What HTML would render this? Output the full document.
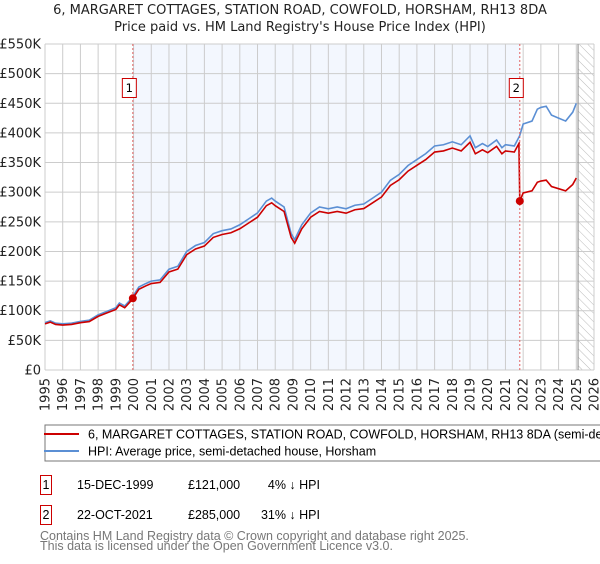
<!DOCTYPE html>
<html><head><meta charset="utf-8"><style>
body{margin:0;background:#fff;font-family:"DejaVu Sans","Liberation Sans",sans-serif;}
svg text{font-family:"DejaVu Sans","Liberation Sans",sans-serif;}
svg text.ls{font-family:"Liberation Sans",sans-serif;}
</style></head><body>
<svg id="c" width="600" height="560" viewBox="0 0 600 560" xmlns="http://www.w3.org/2000/svg">
<defs><pattern id="hatch" width="6" height="6" patternUnits="userSpaceOnUse" patternTransform="rotate(-45)"><line x1="0" y1="0" x2="0" y2="6" stroke="#bbb" stroke-width="1"/></pattern></defs>
<text x="300" y="14" text-anchor="middle" font-size="13" fill="#222">6, MARGARET COTTAGES, STATION ROAD, COWFOLD, HORSHAM, RH13 8DA</text>
<text x="300" y="31" text-anchor="middle" font-size="13" fill="#222">Price paid vs. HM Land Registry's House Price Index (HPI)</text>
<g id="grid"></g><g id="marks"></g>
<rect x="45" y="425" width="560" height="36" fill="#fff" stroke="#777"/>
<line x1="44" y1="434" x2="79" y2="434" stroke="#cc0000" stroke-width="2"/>
<text class="ls" x="88" y="438.5" font-size="12.5" fill="#000">6, MARGARET COTTAGES, STATION ROAD, COWFOLD, HORSHAM, RH13 8DA (semi-detached house)</text>
<line x1="44" y1="451" x2="79" y2="451" stroke="#5b8fd4" stroke-width="2"/>
<text class="ls" x="88" y="455.5" font-size="12.5" fill="#000">HPI: Average price, semi-detached house, Horsham</text>
<g font-size="12.5" fill="#000">
<rect x="40.5" y="475.5" width="11" height="19" fill="none" stroke="#cc0000"/>
<text class="ls" x="46" y="489" text-anchor="middle">1</text>
<text class="ls" x="77" y="489">15-DEC-1999</text>
<text class="ls" x="188" y="489">£121,000</text>
<text class="ls" x="320" y="489" text-anchor="end">4% ↓ HPI</text>
<rect x="40.5" y="505.5" width="11" height="19" fill="none" stroke="#cc0000"/>
<text class="ls" x="46" y="519" text-anchor="middle">2</text>
<text class="ls" x="77" y="519">22-OCT-2021</text>
<text class="ls" x="188" y="519">£285,000</text>
<text class="ls" x="320" y="519" text-anchor="end">31% ↓ HPI</text>
</g>
<text class="ls" x="40" y="540" font-size="12.5" fill="#777">Contains HM Land Registry data © Crown copyright and database right 2025.</text>
<text class="ls" x="40" y="550" font-size="12.5" fill="#777">This data is licensed under the Open Government Licence v3.0.</text>
</svg>
<script>
const years=[1995,1996,1997,1998,1999,2000,2001,2002,2003,2004,2005,2006,2007,2008,2009,2010,2011,2012,2013,2014,2015,2016,2017,2018,2019,2020,2021,2022,2023,2024,2025,2026];
const yTicks=[0,50000,100000,150000,200000,250000,300000,350000,400000,450000,500000,550000];
const yTickLabels=["£0","£50K","£100K","£150K","£200K","£250K","£300K","£350K","£400K","£450K","£500K","£550K"];
const hpiT=[1995.0,1995.3,1995.6,1996,1996.5,1997,1997.5,1998,1998.5,1999,1999.2,1999.5,1999.8,2000,2000.3,2000.7,2001,2001.5,2002,2002.5,2003,2003.5,2004,2004.5,2005,2005.5,2006,2006.5,2007,2007.5,2007.8,2008,2008.5,2008.9,2009.1,2009.5,2010,2010.5,2011,2011.5,2012,2012.5,2013,2013.5,2014,2014.5,2015,2015.5,2016,2016.5,2017,2017.5,2018,2018.5,2019,2019.3,2019.7,2020,2020.5,2020.8,2021,2021.5,2021.8,2022,2022.5,2022.8,2023,2023.3,2023.6,2024,2024.4,2024.8,2025.0];
const hpiV=[80,83,79,78,79,82,84,93,99,105,113,108,118,126,140,146,150,152,170,175,200,210,215,230,235,238,245,255,265,285,290,285,275,230,220,245,265,275,272,275,272,278,280,290,300,320,330,345,355,365,378,380,385,380,395,375,382,377,388,375,380,378,395,415,420,440,443,445,430,425,420,435,450];
const saleT=[1999.96,2021.81];
const saleV=[121000,285000];
const X=t=>45+(t-1995)*(549/31);
const Y=v=>370-v*(326/550000);
const NS="http://www.w3.org/2000/svg";
function mk(p,tag,at){const e=document.createElementNS(NS,tag);for(const k in at)e.setAttribute(k,at[k]);p.appendChild(e);return e;}
const g=document.getElementById('grid'),m=document.getElementById('marks');
const bg=mk(g,'rect',{x:X(saleT[0]),y:Y(550000),width:X(saleT[1])-X(saleT[0]),height:Y(0)-Y(550000),fill:'#eef3fd',opacity:0.7});


const hz=mk(g,'rect',{x:X(2025.1),y:Y(550000),width:X(2026)-X(2025.1),height:Y(0)-Y(550000),fill:'url(#hatch)'});


yTicks.forEach((v,i)=>{
 const l=mk(g,'line',{x1:45,x2:594,y1:Y(v),y2:Y(v),stroke:'#ccc'});
 
 
 const t=mk(g,'text',{x:41,y:Y(v)+4.5,'text-anchor':'end','font-size':13,fill:'#222'});
 t.textContent=yTickLabels[i];
 
 
});
years.forEach(yr=>{
 const l=mk(g,'line',{x1:X(yr),x2:X(yr),y1:Y(550000),y2:Y(0),stroke:'#ccc'});
 
 
 const t=mk(g,'text',{x:0,y:0,'text-anchor':'end','font-size':13,fill:'#222',transform:`translate(${X(yr)+4.5},${378}) rotate(-90)`});
 t.textContent=yr;
 
 
});
const vl=mk(g,'line',{x1:X(2025.1),x2:X(2025.1),y1:Y(550000),y2:Y(0),stroke:'#888'});


function hpiAt(t){for(let i=1;i<hpiT.length;i++)if(t<=hpiT[i]){const f=(t-hpiT[i-1])/(hpiT[i]-hpiT[i-1]);return (hpiV[i-1]+f*(hpiV[i]-hpiV[i-1]))*1000;}return hpiV[hpiV.length-1]*1000;}
const hp=mk(m,'polyline',{points:hpiT.map((t,i)=>X(t)+','+Y(hpiV[i]*1000)).join(' '),fill:'none',stroke:'#5b8fd4','stroke-width':1.6});


const r1=saleV[0]/hpiAt(saleT[0]),r2=saleV[1]/hpiAt(saleT[1]);
const pts=[];
hpiT.forEach((t,i)=>{if(t<saleT[1])pts.push([t,hpiV[i]*1000*r1]);});
pts.push([saleT[1]-0.05,hpiAt(saleT[1]-0.05)*r1]);
pts.push([saleT[1],saleV[1]]);
hpiT.forEach((t,i)=>{if(t>saleT[1])pts.push([t,hpiV[i]*1000*r2]);});
const pl=mk(m,'polyline',{points:pts.map(p=>X(p[0])+','+Y(p[1])).join(' '),fill:'none',stroke:'#cc0000','stroke-width':1.6});


saleT.forEach((t,i)=>{
 const v=mk(m,'line',{x1:X(t),x2:X(t),y1:Y(550000),y2:Y(0),stroke:'#e06060','stroke-dasharray':'2,2'});
 
 
 const d=mk(m,'circle',{cx:X(t),cy:Y(saleV[i]),r:4,fill:'#cc0000'});
 
 
 const b=mk(m,'rect',{x:X(t)-10.5,y:78.5,width:14,height:19,fill:'#fff',stroke:'#cc0000'});
 
 
 const tx=mk(m,'text',{x:X(t)-3.5,y:92,'text-anchor':'middle','font-size':11.5,fill:'#000'});
 tx.textContent=String(i+1);
 
 
});
</script>
</body></html>
